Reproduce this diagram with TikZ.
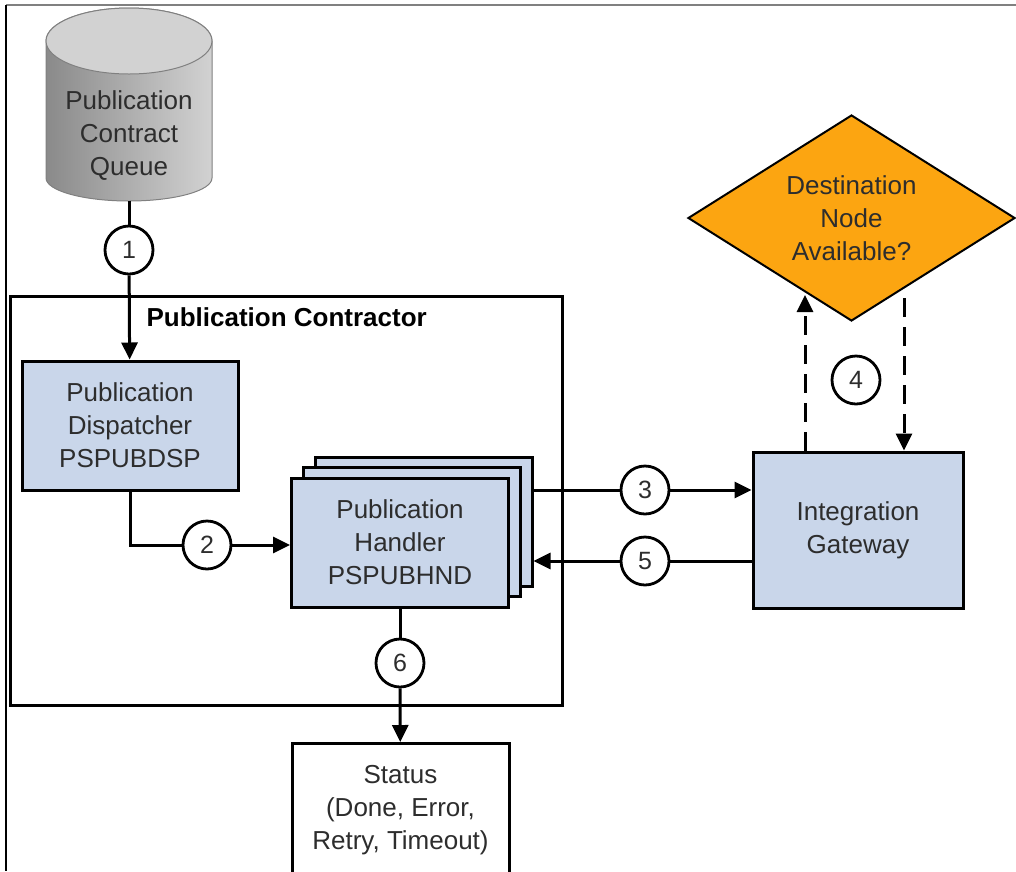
\documentclass[tikz,border=0pt]{standalone}
\usepackage{fontspec}
\setmainfont{Liberation Sans}
\usetikzlibrary{arrows.meta,shapes.geometric}

\definecolor{boxblue}{RGB}{201,214,234}
\definecolor{decorange}{RGB}{252,165,17}
\definecolor{cyldark}{RGB}{138,138,138}
\definecolor{cyllight}{RGB}{210,210,210}
\definecolor{txtgray}{RGB}{45,45,45}

\tikzset{
  procbox/.style={draw=black, line width=3pt, fill=boxblue, align=center, text=txtgray,
    minimum width=216pt, minimum height=129pt, inner sep=0pt},
  numcircle/.style={circle, draw=black, line width=2.8pt, fill=white, minimum size=48pt,
    inner sep=0pt, font=\fontsize{25}{28}\selectfont, text=txtgray},
  link/.style={line width=3pt},
  flow/.style={line width=3pt, -{Triangle[length=17pt,width=16pt]}},
  dashflow/.style={flow, dash pattern=on 19pt off 10pt}
}

\begin{document}
\begin{tikzpicture}[x=1pt, y=-1pt, font=\fontsize{26}{33}\selectfont]
            \useasboundingbox (0,0) rectangle (1016,871);
            \clip (0,0) rectangle (1016,871);

            % Frame
            \draw[gray, line width=1.5pt] (6,5) -- (1016,5);
            \draw[line width=2pt] (6,5) -- (6,871);

            % Queue (cylinder)
            \shade[left color=cyldark, right color=cyllight, draw=gray, line width=1pt]
              (46,41) -- (46,178) arc[start angle=180, end angle=360, x radius=83pt, y radius=23pt]
              -- (212,41) arc[start angle=0, end angle=180, x radius=83pt, y radius=33pt] -- cycle;
            \filldraw[fill=cyllight, draw=gray, line width=1pt] (129,41) ellipse[x radius=83pt, y radius=33pt];
            \node[align=center, text=txtgray] (queue) at (129,136) {Publication\\Contract\\Queue};
            \coordinate (queue bottom) at (129,201);

            % Contractor frame
            \node[draw, line width=3pt, minimum width=552pt, minimum height=409pt, inner sep=0pt] (contractor) at (286,500.5) {};
            \node[anchor=west, font=\bfseries\fontsize{26}{33}\selectfont] (title) at (143,317) {Publication Contractor};

            % Dispatcher
            \node[procbox] (disp) at (130,425.5) {Publication\\Dispatcher\\PSPUBDSP};

            % Handler stack
            \node[procbox, minimum width=217pt] (hback) at (423.5,522) {};
            \node[procbox, minimum width=217pt] (hmid) at (411.5,532) {};
            \node[procbox, minimum width=217pt] (handler) at (400,542.5) {Publication\\Handler\\PSPUBHND};

            % Gateway
            \node[procbox, minimum width=210pt, minimum height=156pt] (gw) at (858,530) {Integration\\Gateway};

            % Decision
            \node[diamond, draw=black, line width=2pt, fill=decorange, minimum width=327pt, minimum height=206pt,
              inner sep=0pt, aspect=1.6, align=center, text=txtgray] (dest) at (851.5,218) {Destination\\Node\\Available?};

            % Status
            \node[draw, line width=3pt, fill=white, minimum width=217pt, minimum height=134pt, anchor=north,
              align=center, text=txtgray, inner sep=0pt] (status) at (400.5,742) {Status\\(Done, Error,\\Retry, Timeout)};

            % Step numbers
            \node[numcircle] (c1) at (129,250) {1};
            \node[numcircle] (c2) at (207,545) {2};
            \node[numcircle] (c3) at (645,490) {3};
            \node[numcircle] (c4) at (856,380) {4};
            \node[numcircle] (c5) at (645,561) {5};
            \node[numcircle] (c6) at (400,663) {6};

            % Step 1
            \draw[link] (queue bottom) -- (c1);
            \draw[flow] (c1) -- (disp);

            % Step 2
            \draw[link] (disp.south) |- (c2);
            \draw[flow] (c2) -- (handler.west |- c2);

            % Step 3
            \draw[link] (hback.east |- c3) -- (c3);
            \draw[flow] (c3) -- (gw.west |- c3);

            % Step 4
            \coordinate (up end) at (805,295);
            \coordinate (down start) at (904,298);
            \draw[dashflow] (gw.north -| up end) -- (up end);
            \draw[dashflow] (down start) -- (gw.north -| down start);

            % Step 5
            \draw[link] (gw.west |- c5) -- (c5);
            \draw[flow] (c5) -- (hback.east |- c5);

            % Step 6
            \draw[link] (handler) -- (c6);
            \draw[flow] (c6) -- (status);
        \end{tikzpicture}
\end{document}
